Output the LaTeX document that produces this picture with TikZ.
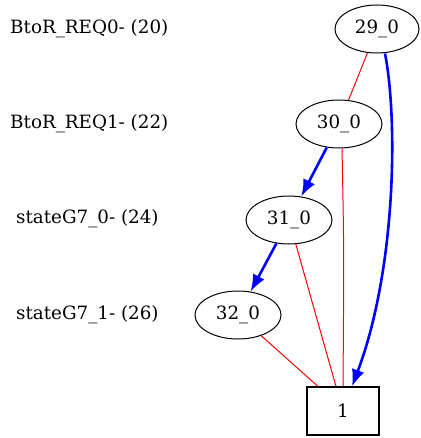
\documentclass[tikz,border=0pt]{standalone}
\usepackage{fontspec}
\setmainfont{DejaVu Serif}
\usetikzlibrary{arrows.meta,shapes.geometric,calc}
\begin{document}
\begin{tikzpicture}[x=1pt,y=-1pt,
  txt/.style={font=\fontsize{18.3}{20}\selectfont},
  state/.style={draw,ellipse,line width=1pt,minimum width=86pt,minimum height=48pt,inner sep=0pt,txt},
  sink/.style={draw,rectangle,line width=1.1pt,minimum width=72pt,minimum height=48pt,inner sep=0pt,txt},
  lvl/.style={anchor=west,inner sep=0pt,txt},
  redge/.style={draw=red,line width=1pt},
  bedge/.style={draw=blue,line width=2.6pt,-{Latex[length=17pt,width=13pt]}}]
\useasboundingbox (0,0) rectangle (420,438);
% level labels
\node[lvl] (l0) at (10,29) {BtoR\_REQ0- (20)};
\node[lvl] (l1) at (10,124) {BtoR\_REQ1- (22)};
\node[lvl] (l2) at (16,219) {stateG7\_0- (24)};
\node[lvl] (l3) at (16,315) {stateG7\_1- (26)};
% states
\node[state,minimum width=84pt] (s29) at (377,29) {29\_0};
\node[state] (s30) at (339,124) {30\_0};
\node[state] (s31) at (289,220) {31\_0};
\node[state] (s32) at (238,315) {32\_0};
\node[sink] (one) at (343,411) {1};
% red edges
\draw[redge] (s29) -- (s30);
\draw[redge] ($(s30.south)+(3,0)$) .. controls (344,250) .. (one.north);
\draw[redge] (s31) -- ($(one.north)+(-7,0)$);
\draw[redge] (s32) -- ($(one.north)+(-25,0)$);
% blue edges
\draw[bedge] (s30) -- (s31);
\draw[bedge] (s31) -- (s32);
\draw[bedge] ($(s29.south)+(8,0)$) .. controls (398,120) and (396,270) .. ($(one.north)+(9,0)$);
\end{tikzpicture}
\end{document}
